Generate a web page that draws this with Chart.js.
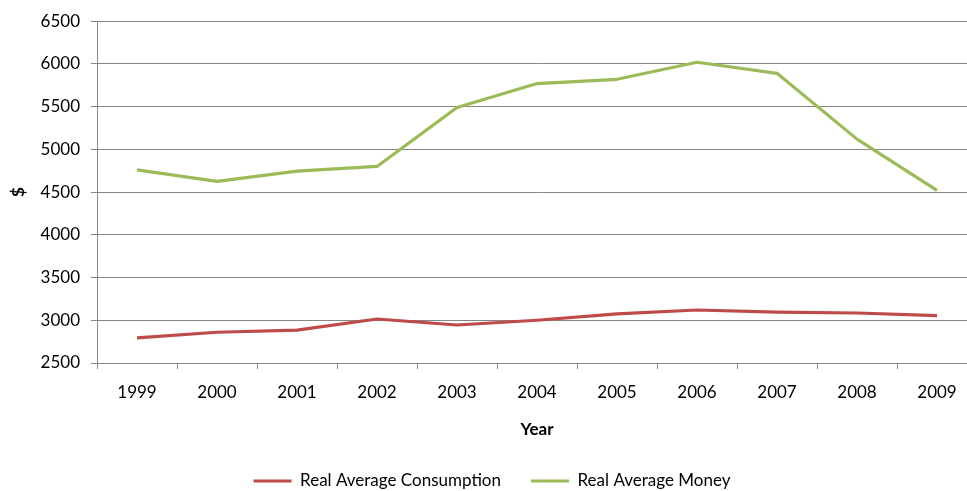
<!DOCTYPE html>
<html>
<head>
<meta charset="utf-8">
<title>Real Average Consumption and Money</title>
<script src="https://cdn.jsdelivr.net/npm/chart.js@4.4.1/dist/chart.umd.min.js"></script>
<style>
    html, body { margin: 0; padding: 0; background: #fff; overflow: hidden; }
    #wrap { width: 967px; height: 491px; overflow: hidden; }
</style>
</head>
<body>
<div id="wrap"><canvas id="moneyChart" width="984" height="491"></canvas></div>
<script>
// Data
const years = ['1999', '2000', '2001', '2002', '2003', '2004', '2005', '2006', '2007', '2008', '2009'];
const consumption = [2795, 2860, 2885, 3015, 2945, 3000, 3075, 3120, 3095, 3085, 3055];
const money = [4760, 4625, 4745, 4800, 5490, 5770, 5820, 6020, 5890, 5120, 4520];
const seriesLabels = ['Real Average Consumption', 'Real Average Money'];
const yTicks = { min: 2500, max: 6500, step: 500 };

const gridColor = '#878787';
const red = '#BE4B48';
const green = '#9BBB59';

Chart.defaults.font.family = 'Lato';
Chart.defaults.font.size = 17;
Chart.defaults.color = '#000';

const ctx = document.getElementById('moneyChart').getContext('2d');

const moneyChart = new Chart(ctx, {
    type: 'line',
    data: {
        labels: years,
        datasets: [
            {
                label: seriesLabels[0],
                data: consumption,
                borderColor: red,
                backgroundColor: red,
                borderWidth: 3.2,
                pointRadius: 0,
                tension: 0,
                borderJoinStyle: 'round'
            },
            {
                label: seriesLabels[1],
                data: money,
                borderColor: green,
                backgroundColor: green,
                borderWidth: 3.2,
                pointRadius: 0,
                tension: 0,
                borderJoinStyle: 'round'
            }
        ]
    },
    options: {
        responsive: false,
        animation: false,
        layout: {
            padding: { top: 20, left: 7, right: 7, bottom: 0 }
        },
        scales: {
            x: {
                type: 'category',
                offset: true,
                grid: {
                    offset: true,
                    drawOnChartArea: false,
                    drawTicks: true,
                    tickLength: 6,
                    color: gridColor
                },
                border: { color: gridColor },
                ticks: { padding: 13, maxRotation: 0 },
                title: {
                    display: true,
                    text: 'Year',
                    font: { weight: 'bold' },
                    padding: { top: 10, bottom: 3 }
                },
                afterFit: (scale) => { scale.height = 79.5; }
            },
            y: {
                min: yTicks.min,
                max: yTicks.max,
                ticks: {
                    stepSize: yTicks.step,
                    padding: 11,
                    callback: (value) => String(value)
                },
                grid: {
                    color: gridColor,
                    tickLength: 6
                },
                border: { color: gridColor },
                title: {
                    display: true,
                    text: '$',
                    font: { weight: 'bold' },
                    padding: { top: 1, bottom: 0 }
                },
                afterFit: (scale) => { scale.width = 90; }
            }
        },
        plugins: {
            legend: {
                position: 'bottom',
                maxHeight: 48.5,
                labels: {
                    boxWidth: 38,
                    boxHeight: 3,
                    padding: 30,
                    generateLabels: (chart) => {
                        const items = Chart.defaults.plugins.legend.labels.generateLabels(chart);
                        items.forEach(item => { item.lineWidth = 0; });
                        return items;
                    }
                }
            },
            tooltip: { enabled: false }
        }
    }
});
</script>
</body>
</html>
